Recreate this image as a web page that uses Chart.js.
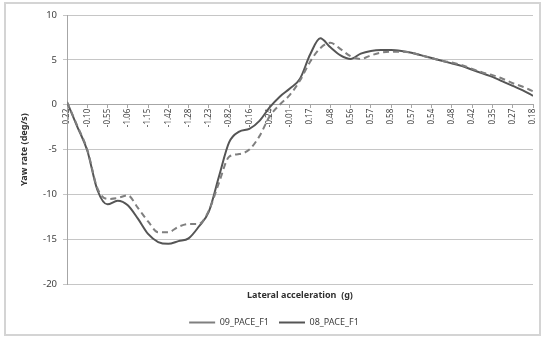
<!DOCTYPE html>
<html>
<head>
<meta charset="utf-8">
<script src="https://cdn.jsdelivr.net/npm/chart.js@4"></script>
<style>
  body { margin: 0; background: #fff; }
</style>
</head>
<body>
<canvas id="graficoYaw" width="544" height="337"></canvas>
<script>
// Rótulos do eixo x (aceleração lateral em g), um por marca
const ROTULOS_X = ['0.22', '-0.10', '-0.55', '-1.06', '-1.15', '-1.42', '-1.28', '-1.23', '-0.82', '-0.16', '-0.24', '-0.01',
    '0.17', '0.48', '0.56', '0.57', '0.58', '0.57', '0.54', '0.48', '0.42', '0.35', '0.27', '0.18'];

// Marcas do eixo y
const Y_MIN = -20;
const Y_MAX = 10;
const Y_PASSO = 5;

// Leituras a cada meia marca do eixo x
const PASSO_LEITURA = 0.5;

// Yaw rate (deg/s) de cada corrida
const SERIE_09 = [0.3, -2.3, -5.0, -9.3, -10.5, -10.4, -10.1, -11.5, -13.0, -14.2, -14.2, -13.6, -13.3, -13.3, -11.8, -8.7,
    -5.8, -5.5, -5.0, -3.5, -1.3, 0.0, 1.1, 2.7, 4.8, 6.3, 6.9, 6.2, 5.4, 5.1, 5.5, 5.8, 5.9, 5.9, 5.8, 5.5, 5.2, 4.9, 4.7,
    4.4, 4.0, 3.6, 3.3, 2.9, 2.4, 2.0, 1.5];
const SERIE_08 = [0.3, -2.4, -5.1, -9.5, -11.1, -10.7, -11.2, -12.7, -14.4, -15.3, -15.5, -15.2, -14.9, -13.6, -11.9, -8.0,
    -4.2, -3.0, -2.7, -1.8, -0.3, 0.9, 1.8, 2.9, 5.6, 7.4, 6.4, 5.5, 5.1, 5.7, 6.0, 6.1, 6.1, 6.0, 5.8, 5.5, 5.2, 4.9, 4.6,
    4.3, 3.9, 3.5, 3.1, 2.6, 2.1, 1.6, 1.0];

const FONTE = "'Noto Sans', 'DejaVu Sans', sans-serif";

// Transforma o vetor de valores em pontos {x, y}
function montarPontos(valores) {
    let pontos = [];
    for (let i = 0; i < valores.length; i++) {
        pontos.push({ x: i * PASSO_LEITURA, y: valores[i] });
    }
    return pontos;
}

// Fundo branco e moldura cinza em volta
const moldura = {
    id: 'moldura',
    beforeDraw(chart) {
        const ctx = chart.ctx;
        ctx.save();
        ctx.fillStyle = '#fff';
        ctx.fillRect(0, 0, chart.width, chart.height);
        ctx.restore();
    },
    afterDraw(chart) {
        const ctx = chart.ctx;
        ctx.save();
        ctx.strokeStyle = '#d4d4d4';
        ctx.lineWidth = 2;
        ctx.strokeRect(5, 3, chart.width - 9, chart.height - 5);
        ctx.restore();
    }
};

const contexto = document.getElementById('graficoYaw').getContext('2d');
const grafico = new Chart(contexto, {
    type: 'line',
    data: {
        datasets: [{
            label: '09_PACE_F1',
            data: montarPontos(SERIE_09),
            borderColor: '#7f7f7f',
            borderWidth: 2,
            borderDash: [6, 4],
            pointRadius: 0,
            tension: 0.4,
            cubicInterpolationMode: 'monotone'
        }, {
            label: '08_PACE_F1',
            data: montarPontos(SERIE_08),
            borderColor: '#555555',
            borderWidth: 2,
            pointRadius: 0,
            tension: 0.4,
            cubicInterpolationMode: 'monotone'
        }]
    },
    options: {
        responsive: false,
        animation: false,
        layout: { padding: { left: 15, top: 15, right: 11, bottom: 0 } },
        scales: {
            x: {
                type: 'linear',
                position: { y: 0 },
                min: 0,
                max: ROTULOS_X.length - 1,
                ticks: {
                    stepSize: 1,
                    autoSkip: false,
                    maxRotation: 90,
                    minRotation: 90,
                    padding: 1,
                    color: '#404040',
                    font: { family: FONTE, size: 8 },
                    callback: function (valor) { return ROTULOS_X[valor]; }
                },
                grid: { drawOnChartArea: false, tickLength: 3, color: '#a6a6a6' },
                border: { color: '#a6a6a6' }
            },
            y: {
                min: Y_MIN,
                max: Y_MAX,
                ticks: {
                    stepSize: Y_PASSO,
                    color: '#404040',
                    font: { family: FONTE, size: 9.5 },
                    padding: 6
                },
                grid: { color: '#c6c6c6', tickLength: 4 },
                border: { color: '#a6a6a6' },
                title: {
                    display: true,
                    text: 'Yaw rate (deg/s)',
                    color: '#303030',
                    font: { family: FONTE, size: 9, weight: 'bold' }
                },
                afterFit: function (escala) { escala.width = 52; }
            }
        },
        plugins: {
            title: {
                display: true,
                position: 'bottom',
                fullSize: false,
                weight: 500,
                text: 'Lateral acceleration  (g)',
                color: '#303030',
                font: { family: FONTE, size: 9, weight: 'bold' },
                padding: { top: 6, bottom: 7 }
            },
            legend: {
                position: 'bottom',
                labels: {
                    usePointStyle: true,
                    pointStyle: 'line',
                    pointStyleWidth: 26,
                    color: '#404040',
                    font: { family: FONTE, size: 9 },
                    padding: 10
                }
            },
            tooltip: { enabled: false }
        }
    },
    plugins: [moldura]
});
</script>
</body>
</html>
